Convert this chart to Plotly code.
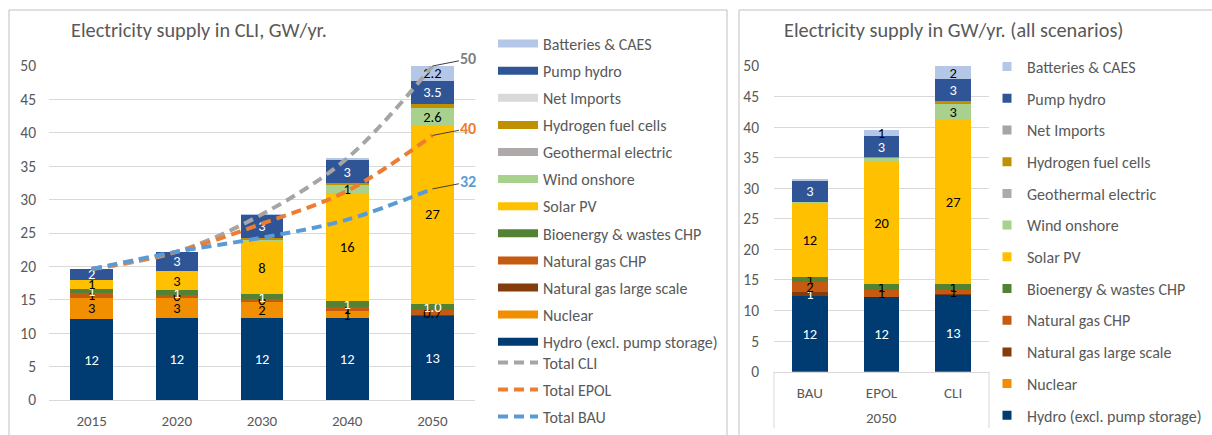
import plotly.graph_objects as go

# ---------------------------------------------------------------- data
SOURCES = [
    "Hydro (excl. pump storage)", "Nuclear", "Natural gas large scale",
    "Natural gas CHP", "Bioenergy & wastes CHP", "Solar PV", "Wind onshore",
    "Geothermal electric", "Hydrogen fuel cells", "Net Imports",
    "Pump hydro", "Batteries & CAES",
]
YEARS = ["2015", "2020", "2030", "2040", "2050"]

# CLI scenario, GW/yr by source (same order as SOURCES)
SUPPLY_2015 = [12.1, 3.2, 0.0, 0.7, 0.6, 1.4, 0.0, 0.0, 0.0, 0.0, 1.6, 0.0]
SUPPLY_2020 = [12.3, 3.0, 0.0, 0.4, 0.7, 2.9, 0.0, 0.0, 0.0, 0.0, 2.9, 0.0]
SUPPLY_2030 = [12.3, 2.4, 0.0, 0.4, 0.7, 8.0, 0.3, 0.0, 0.2, 0.0, 3.4, 0.1]
SUPPLY_2040 = [12.3, 1.0, 0.0, 0.6, 0.9, 16.1, 1.4, 0.0, 0.2, 0.0, 3.4, 0.3]
SUPPLY_2050 = [12.6, 0.0, 0.1, 0.7, 1.0, 26.74, 2.6, 0.0, 0.6, 0.0, 3.46, 2.2]

# 2050 by scenario
SCENARIOS = ["BAU", "EPOL", "CLI"]
SCENARIO_YEAR = "2050"
SUPPLY_BAU_2050 = [12.4, 0.0, 0.7, 1.6, 0.8, 12.2, 0.1, 0.0, 0.0, 0.0, 3.4, 0.3]
SUPPLY_EPOL_2050 = [12.3, 0.0, 0.0, 1.1, 0.9, 20.1, 0.6, 0.0, 0.1, 0.0, 3.4, 1.1]
SUPPLY_CLI_2050 = SUPPLY_2050

# Scenario totals
TOTAL_CLI = [19.6, 22.2, 27.8, 36.2, 50.0]
TOTAL_EPOL = [19.6, 22.2, 26.4, 31.3, 39.6]
TOTAL_BAU = [19.6, 22.2, 24.3, 27.0, 31.6]

# ---------------------------------------------------------------- style
W, H = 1212, 435
FONT = "Calibri, Carlito, Lato, sans-serif"
GREY_TXT = "#595959"
GRID = "#D9D9D9"

COLORS = [
    "#003C71", "#F18F00", "#843C0C", "#C55A11", "#548235", "#FFC000",
    "#A9D18E", "#AEAAAA", "#BF9000", "#D9D9D9", "#2F5597", "#B4C7E7",
]
RIGHT_LEGEND_COLORS = COLORS[:9] + ["#A5A5A5"] + COLORS[10:]
LEFT_LABEL_COLORS = [
    "white", "black", "white", "black", "white", "black",
    "black", "black", "black", "black", "white", "black",
]
RIGHT_LABEL_COLORS = [
    "white", "black", "white", "black", "black", "black",
    "black", "black", "black", "black", "white", "black",
]
UNLABELLED = {"Hydrogen fuel cells", "Geothermal electric", "Net Imports"}


def px_x(p):
    return p / W


def px_y(p):
    return (H - p) / H


def fmt(v, decimals):
    return f"{v:.{decimals}f}"


# year slots on the left x axis (ticks carry the year text)
year_pos = list(range(len(YEARS)))

fig = go.Figure()

# ---------------------------------------------------------------- left: CLI by year
year_cols = [SUPPLY_2015, SUPPLY_2020, SUPPLY_2030, SUPPLY_2040, SUPPLY_2050]
for i, src in enumerate(SOURCES):
    vals = [col[i] for col in year_cols]
    labels = []
    for yr, v in zip(YEARS, vals):
        if src in UNLABELLED or v < 0.35:
            labels.append("")
        elif yr == "2050" and v < 10:
            labels.append(fmt(v, 1))
        else:
            labels.append(fmt(v, 0))
    fig.add_trace(go.Bar(
        x=year_pos, y=vals, name=src, marker=dict(color=COLORS[i], line=dict(width=0)),
        text=labels, textposition="inside", insidetextanchor="middle",
        textangle=0, constraintext="none",
        insidetextfont=dict(family=FONT, size=14.5, color=LEFT_LABEL_COLORS[i]),
        showlegend=False, xaxis="x", yaxis="y",
    ))

# ---------------------------------------------------------------- right: 2050 scenarios
scen_cols = [SUPPLY_BAU_2050, SUPPLY_EPOL_2050, SUPPLY_CLI_2050]
for i, src in enumerate(SOURCES):
    vals = [col[i] for col in scen_cols]
    labels = ["" if (src in UNLABELLED or v < 0.65) else fmt(v, 0) for v in vals]
    fig.add_trace(go.Bar(
        x=SCENARIOS, y=vals, name=src,
        marker=dict(color=COLORS[i], line=dict(width=0)),
        text=labels, textposition="inside", insidetextanchor="middle",
        textangle=0, constraintext="none",
        insidetextfont=dict(family=FONT, size=14.5, color=RIGHT_LABEL_COLORS[i]),
        showlegend=False, xaxis="x2", yaxis="y2",
    ))

# ---------------------------------------------------------------- total lines
totals = [("Total CLI", TOTAL_CLI, "#A5A5A5", "#7F7F7F"),
          ("Total EPOL", TOTAL_EPOL, "#ED7D31", "#ED7D31"),
          ("Total BAU", TOTAL_BAU, "#5B9BD5", "#5B9BD5")]
for name, vals, col, txtcol in totals:
    fig.add_trace(go.Scatter(
        x=year_pos, y=vals, mode="lines", name=name, cliponaxis=False,
        line=dict(color=col, width=4, dash="10px,6px", shape="spline"),
        showlegend=False, xaxis="x", yaxis="y",
    ))
    fig.add_annotation(
        x=year_pos[-1], y=vals[-1], xref="x", yref="y",
        text=f"<b>{vals[-1]:.0f}</b>", showarrow=True, arrowhead=0,
        arrowwidth=1, arrowcolor="#404040", ax=36, ay=-7,
        font=dict(family=FONT, size=16, color=txtcol),
    )

# ---------------------------------------------------------------- legend entries
# (data-less traces on a spare hidden axis, used only for the legend keys)
for i in reversed(range(len(SOURCES))):
    fig.add_trace(go.Scatter(
        x=[None], y=[None], mode="lines", name=SOURCES[i],
        line=dict(color=COLORS[i], width=8), legend="legend",
        legendgroup="l_" + SOURCES[i], xaxis="x3", yaxis="y3", hoverinfo="skip",
    ))
for name, vals, col, txtcol in totals:
    fig.add_trace(go.Scatter(
        x=[None], y=[None], mode="lines", name=name,
        line=dict(color=col, width=4, dash="10px,6px"), legend="legend3",
        legendgroup="l_" + name, xaxis="x3", yaxis="y3", hoverinfo="skip",
    ))
for i in reversed(range(len(SOURCES))):
    fig.add_trace(go.Scatter(
        x=[None], y=[None], mode="markers", name=SOURCES[i],
        marker=dict(color=RIGHT_LEGEND_COLORS[i], size=9, symbol="square"),
        legend="legend2", legendgroup="r_" + SOURCES[i],
        xaxis="x3", yaxis="y3", hoverinfo="skip",
    ))

# ---------------------------------------------------------------- titles
fig.add_annotation(
    x=px_x(69), y=px_y(30), xref="paper", yref="paper", xanchor="left",
    yanchor="middle", showarrow=False, text="Electricity supply in CLI, GW/yr.",
    font=dict(family=FONT, size=20.3, color=GREY_TXT),
)
fig.add_annotation(
    x=px_x(782), y=px_y(30), xref="paper", yref="paper", xanchor="left",
    yanchor="middle", showarrow=False,
    text="Electricity supply in GW/yr. (all scenarios)",
    font=dict(family=FONT, size=20.3, color=GREY_TXT),
)

# second category level under the scenario axis, framed by dividers
fig.add_annotation(
    x=0.5, y=px_y(418), xref="x2 domain", yref="paper", xanchor="center",
    yanchor="middle", showarrow=False, text=SCENARIO_YEAR,
    font=dict(family=FONT, size=15, color=GREY_TXT),
)
for edge in (0, 1):
    fig.add_shape(type="line", xref="x2 domain", yref="paper",
                  x0=edge, x1=edge, y0=px_y(371.7), y1=px_y(428),
                  line=dict(color=GRID, width=1))

# ---------------------------------------------------------------- panel frames
fig.add_shape(type="rect", xref="paper", yref="paper",
              x0=px_x(9), x1=px_x(727), y0=-0.1, y1=px_y(10),
              line=dict(color="#BFBFBF", width=1))
fig.add_shape(type="rect", xref="paper", yref="paper",
              x0=px_x(739), x1=1.1, y0=-0.1, y1=px_y(10),
              line=dict(color="#BFBFBF", width=1))

axis_font = dict(family=FONT, size=15.5, color=GREY_TXT)
yaxis_common = dict(
    range=[0, 50], dtick=5, showgrid=True, gridcolor=GRID, gridwidth=1,
    zeroline=False, showline=False, tickfont=axis_font, ticks="",
    automargin=False, fixedrange=True,
)
legend_common = dict(
    xanchor="left", yanchor="top", traceorder="grouped",
    bgcolor="rgba(0,0,0,0)", itemclick=False,
    font=dict(family=FONT, size=16, color=GREY_TXT),
)

fig.update_layout(
    width=W, height=H, margin=dict(l=0, r=0, t=0, b=0, pad=0),
    paper_bgcolor="white", plot_bgcolor="white",
    font=dict(family=FONT, color=GREY_TXT),
    barmode="stack", bargap=0.5,
    xaxis=dict(domain=[px_x(49), px_x(475)], anchor="y", type="linear",
               range=[-0.5, len(YEARS) - 0.5], tickmode="array",
               tickvals=year_pos, ticktext=YEARS, showgrid=False, zeroline=False,
               showline=True, linecolor=GRID, ticks="",
               tickfont=dict(family=FONT, size=15, color=GREY_TXT),
               automargin=False, ticklabelstandoff=7),
    yaxis=dict(domain=[px_y(400), px_y(66)], anchor="x",
               ticklabelstandoff=12, **yaxis_common),
    xaxis2=dict(domain=[px_x(774), px_x(989)], anchor="y2", type="category",
                showline=True, linecolor=GRID, ticks="",
                tickfont=dict(family=FONT, size=15, color=GREY_TXT),
                automargin=False, ticklabelstandoff=7),
    yaxis2=dict(domain=[px_y(371.7), px_y(66)], anchor="x2",
                ticklabelstandoff=14, **yaxis_common),
    xaxis3=dict(domain=[0.99, 1.0], visible=False, anchor="y3"),
    yaxis3=dict(domain=[0.99, 1.0], visible=False, anchor="x3"),
    legend=dict(x=px_x(493), y=px_y(26.7), tracegroupgap=3.3, itemwidth=40,
                **legend_common),
    legend3=dict(x=px_x(493), y=px_y(345.5), tracegroupgap=3.3, itemwidth=40,
                 **legend_common),
    legend2=dict(x=px_x(987), y=px_y(49.7), tracegroupgap=7.9, itemwidth=30,
                 **legend_common),
    showlegend=True,
)

fig.write_html("out.html")
